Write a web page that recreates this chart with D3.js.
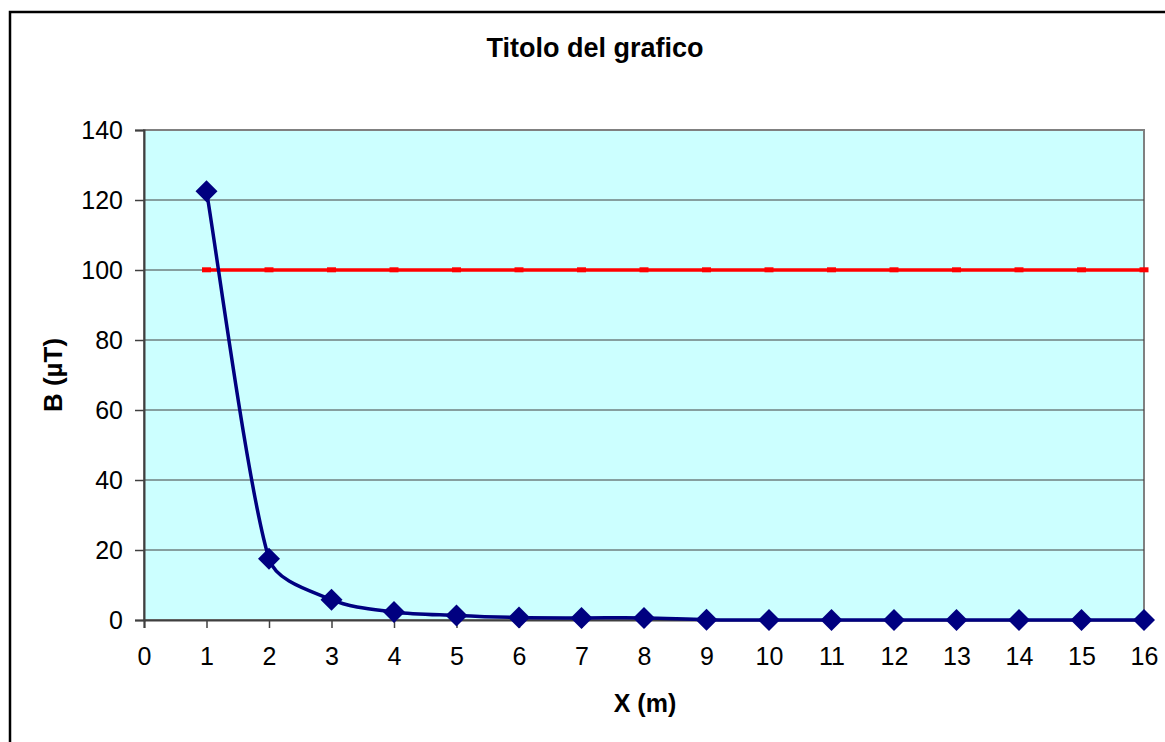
<!DOCTYPE html>
<html><head><meta charset="utf-8">
<script src="https://cdn.jsdelivr.net/npm/d3@7"></script>
<style>body{margin:0;background:#fff}svg{display:block}text{font-family:"Liberation Sans",Arial,sans-serif}</style>
</head><body>
<svg id="c" width="1165" height="742"></svg>
<script>
const xValues = [1,2,3,4,5,6,7,8,9,10,11,12,13,14,15,16];
const bValues = [122.5,17.5,5.8,2.3,1.3,0.7,0.6,0.6,0.1,0,0,0,0,0,0,0];
const limitValues = [100,100,100,100,100,100,100,100,100,100,100,100,100,100,100,100];
const xTicks = [0,1,2,3,4,5,6,7,8,9,10,11,12,13,14,15,16];
const yTicks = [0,20,40,60,80,100,120,140];
const titleText = "Titolo del grafico";
const xLabel = "X (m)";
const yLabel = "B (\u00B5T)";

const svg = d3.select("#c");
const L = 144, R = 1144, T = 130, B = 620;
const x = d3.scaleLinear().domain([0,16]).range([L,R]);
const y = d3.scaleLinear().domain([0,140]).range([B,T]);

// outer chart border
svg.append("rect").attr("x",10).attr("y",12).attr("width",1200).attr("height",800)
  .attr("fill","none").attr("stroke","#000").attr("stroke-width",2.5);

// plot area
svg.append("rect").attr("x",L).attr("y",T).attr("width",R-L).attr("height",B-T)
  .attr("fill","#CCFFFF").attr("stroke","#808080").attr("stroke-width",2);

// gridlines
svg.append("g").selectAll("line").data(yTicks.filter(d=>d>0&&d<140)).join("line")
  .attr("x1",L).attr("x2",R).attr("y1",d=>y(d)).attr("y2",d=>y(d))
  .attr("stroke","#404040").attr("stroke-width",1);

// axes
const ax = svg.append("g").attr("transform",`translate(0,${B})`)
  .call(d3.axisBottom(x).tickValues(xTicks).tickSize(8).tickPadding(19).tickFormat(d3.format("d")));
const ay = svg.append("g").attr("transform",`translate(${L},0)`)
  .call(d3.axisLeft(y).tickValues(yTicks).tickSize(9).tickPadding(12).tickFormat(d3.format("d")));
[ax,ay].forEach(g=>{
  g.select(".domain").attr("stroke","#404040").attr("stroke-width",2);
  g.selectAll(".tick line").attr("stroke","#404040").attr("stroke-width",1.5);
  g.selectAll(".tick text").attr("font-size",25).attr("fill","#000")
   .attr("font-family","'Liberation Sans',Arial,sans-serif");
});
ax.selectAll(".tick text").attr("dy","0.71em");
ay.selectAll(".tick text").attr("dy","0.35em");

// red limit line
const redData = xValues.map((v,i)=>[v,limitValues[i]]);
svg.append("path").datum(redData)
  .attr("d",d3.line().x(d=>x(d[0])).y(d=>y(d[1])))
  .attr("fill","none").attr("stroke","#FF0000").attr("stroke-width",3.5);
svg.append("g").selectAll("rect").data(redData).join("rect")
  .attr("x",d=>x(d[0])-4.5).attr("y",d=>y(d[1])-2.7).attr("width",9).attr("height",5)
  .attr("fill","#FF0000");

// Excel-like smoothed line (Bezier, 1/6 tension, control length limited by neighbour segment)
function smoothPath(pts){
  const p = d3.path();
  const n = pts.length;
  const dist = (a,b)=>Math.hypot(b[0]-a[0],b[1]-a[1]);
  p.moveTo(pts[0][0],pts[0][1]);
  for(let i=0;i<n-1;i++){
    const p0 = pts[Math.max(i-1,0)], p1 = pts[i], p2 = pts[i+1], p3 = pts[Math.min(i+2,n-1)];
    const dPrev = dist(p0,p1), dCur = dist(p1,p2), dNext = dist(p2,p3);
    let k1 = 1, k2 = 1;
    if(dPrev>0) k1 = Math.min(1, 2*dCur/(dPrev+dCur));
    if(dNext>0) k2 = Math.min(1, 2*dCur/(dNext+dCur));
    const c1 = [p1[0]+(p2[0]-p0[0])/6*k1, p1[1]+(p2[1]-p0[1])/6*k1];
    const c2 = [p2[0]-(p3[0]-p1[0])/6*k2, p2[1]-(p3[1]-p1[1])/6*k2];
    p.bezierCurveTo(c1[0],c1[1],c2[0],c2[1],p2[0],p2[1]);
  }
  return p.toString();
}

// blue series
const blueData = xValues.map((v,i)=>[v,bValues[i]]);
svg.append("path")
  .attr("d",smoothPath(blueData.map(d=>[x(d[0]),y(d[1])])))
  .attr("fill","none").attr("stroke","#000080").attr("stroke-width",3.5);
svg.append("g").selectAll("path").data(blueData).join("path")
  .attr("d",d3.symbol().type(d3.symbolSquare).size(242))
  .attr("transform",d=>`translate(${x(d[0])},${y(d[1])}) rotate(45)`)
  .attr("fill","#000080");

// titles
svg.append("text").attr("x",595).attr("y",57).attr("text-anchor","middle")
  .attr("font-size",27).attr("font-weight","bold").text(titleText);
svg.append("text").attr("x",645).attr("y",712).attr("text-anchor","middle")
  .attr("font-size",25).attr("font-weight","bold").text(xLabel);
svg.append("text").attr("transform",`translate(62,${(T+B)/2}) rotate(-90)`).attr("text-anchor","middle")
  .attr("font-size",26).attr("font-weight","bold").text(yLabel);
</script>
</body></html>
